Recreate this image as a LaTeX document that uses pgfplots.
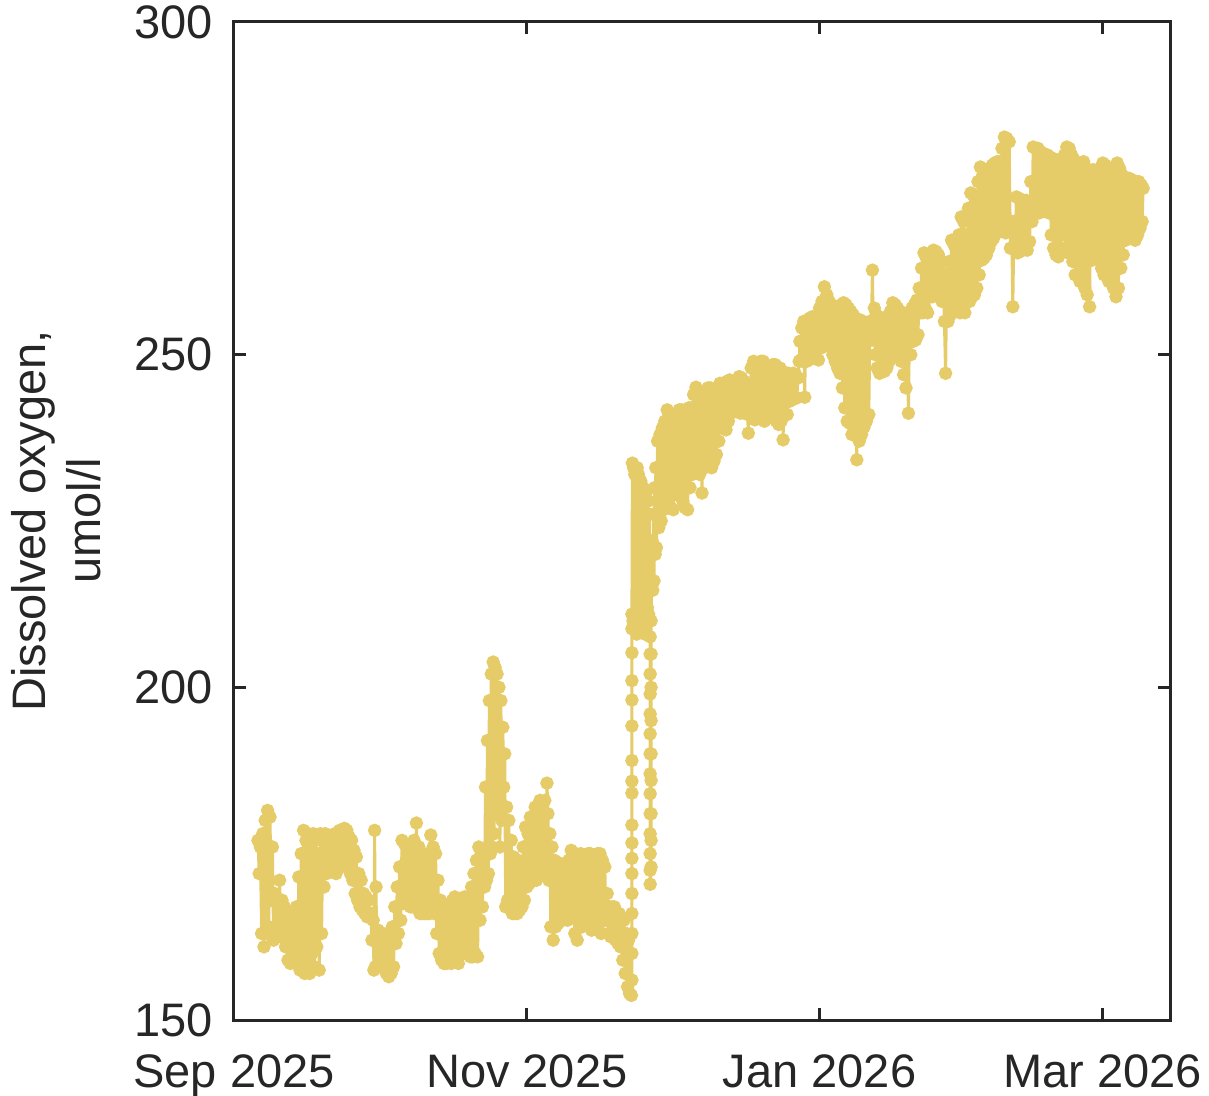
\documentclass[border=0pt]{standalone}
\usepackage{pgfplots}
\pgfplotsset{compat=1.18}
\usepackage{fontspec}
\setmainfont{Liberation Sans}
\definecolor{doy}{RGB}{229,204,104}
\definecolor{axg}{RGB}{38,38,38}
\begin{document}
\begin{tikzpicture}
\useasboundingbox (-117bp,-38bp) rectangle (487.5bp,510bp);
\begin{axis}[
  at={(0,0)}, anchor=south west,
  scale only axis, width=468bp, height=499bp,
  xmin=0, xmax=195, ymin=150, ymax=300,
  xtick={0,61,122,181},
  xticklabels={Sep 2025,Nov 2025,Jan 2026,Mar 2026},
  ytick={150,200,250,300},
  minor tick num=0,
  tick align=inside,
  major tick length=6bp,
  axis line style={line width=1.5bp, draw=axg},
  every tick/.style={line width=1.5bp, draw=axg},
  font=\fontsize{23.5bp}{27.5bp}\selectfont,
  /pgf/number format/assume math mode=true,
  ticklabel style={text=axg},
  yticklabel style={xshift=-7bp},
  xticklabel style={yshift=-14bp},
  ylabel={Dissolved oxygen,\\umol/l},
  ylabel style={align=center, text=axg},
  ylabel shift=10bp,
  clip=false,
]
\addplot[color=doy, line width=1.5bp, mark=*, mark size=2.6bp, mark options={draw=none, fill=doy}] coordinates {
(5.0,177)(5.25,172)(5.5,176)(5.75,163)(6.0,178)(6.25,161)(6.5,180)(6.75,163)(7.0,181.5)(7.25,164)(7.5,180.5)(7.75,168)
(8.0,176)(8.25,162)(8.5,169)(8.75,163)(9.0,167.5)(9.25,164)(9.5,171)(9.75,162.5)(10.0,168)(10.25,163)(10.5,167)(10.75,161)
(11.0,166)(11.25,159)(11.5,165)(11.75,158.5)(12.0,166)(12.25,160)(12.5,165)(12.75,161)(13.0,167)(13.25,159)(13.5,171.5)(13.75,157.5)
(14.0,175)(14.25,158)(14.5,178.5)(14.75,157)(15.0,177)(15.25,159)(15.5,178)(15.75,157)(16.0,176)(16.25,160)(16.5,178)(16.75,158)
(17.0,177)(17.25,161)(17.5,175)(17.75,157.5)(18.0,178)(18.25,163)(18.5,177.5)(18.75,170)(19.0,178)(19.25,172)(19.5,177.5)(19.75,173)
(20.0,177)(20.25,173)(20.5,177.5)(20.75,172.5)(21.0,178)(21.25,172)(21.5,177.5)(21.75,173)(22.0,178.5)(22.25,173)(22.5,178)(22.75,174)
(23.0,178.8)(23.25,174)(23.5,178.5)(23.75,173)(24.0,177.5)(24.25,172)(24.5,177)(24.75,171)(25.0,175.5)(25.25,169)(25.5,174.5)(25.75,168)
(26.0,172)(26.25,167)(26.5,171)(26.75,166.5)(27.0,169)(27.25,166)(27.5,168.5)(27.75,165.5)(28.0,168)(28.25,165.5)(28.5,166)(28.75,162)
(29.0,165)(29.15,157.5)(29.3,178.5)(29.45,158)(29.6,170)(29.75,158)(30.0,163.5)(30.25,158.5)(30.5,163)(30.75,158)(31.0,163)(31.25,158)
(31.5,162.5)(31.75,157)(32.0,163)(32.25,156.5)(32.5,162)(32.75,157)(33.0,164)(33.25,158)(33.5,167)(33.75,161.5)(34.0,170)(34.25,163)
(34.5,173)(34.75,165)(35.0,177)(35.25,167.5)(35.5,176.5)(35.75,168)(36.0,176)(36.25,168)(36.5,175.5)(36.75,167)(37.0,175)(37.25,167)
(37.5,177)(37.75,167)(38.0,179.6)(38.25,167)(38.5,176)(38.75,166)(39.0,174.5)(39.25,166)(39.5,173.5)(39.75,166)(40.0,173)(40.25,166)
(40.5,175)(40.75,166)(41.0,177.8)(41.25,167)(41.5,176)(41.75,166)(42.0,175)(42.25,163)(42.5,171)(42.75,160)(43.0,168)(43.25,159)
(43.5,167)(43.75,158.5)(44.0,166)(44.25,158.5)(44.5,166.5)(44.75,159)(45.0,167)(45.25,158.5)(45.5,168)(45.75,159)(46.0,168.5)(46.25,159)
(46.5,167.5)(46.75,158.5)(47.0,167)(47.25,160)(47.5,168)(47.75,160)(48.0,168.5)(48.25,160)(48.5,167.5)(48.75,160)(49.0,167)(49.25,159.5)
(49.5,170)(49.75,159.5)(50.0,172)(50.25,160)(50.5,174)(50.75,159.5)(51.0,176)(51.25,165)(51.5,175)(51.75,167)(52.0,174)(52.2,170)
(52.4,185)(52.6,171)(52.8,192)(53.0,172)(53.2,198)(53.4,175)(53.6,202)(53.8,176)(54.0,203.8)(54.2,178)(54.4,203)(54.6,181)
(54.8,202)(55.0,182)(55.2,200)(55.4,176)(55.6,198)(55.8,180)(56.0,194)(56.2,185)(56.4,190)(56.6,167)(56.8,182)(57.0,168)
(57.25,180)(57.5,167)(57.75,177)(58.0,166)(58.25,174.5)(58.5,166)(58.75,174)(59.0,166)(59.25,174)(59.5,166.5)(59.75,173)(60.0,167)
(60.25,176)(60.5,168)(60.75,179)(61.0,170)(61.25,178)(61.5,170.5)(61.75,180.5)(62.0,171)(62.25,180)(62.5,171)(62.75,182)(63.0,171)
(63.25,181)(63.5,172)(63.75,183)(64.0,172)(64.25,182.5)(64.5,173)(64.75,183)(65.0,172)(65.2,185.6)(65.4,181)(65.6,171)(65.8,178)
(66.0,164)(66.25,176)(66.5,162)(66.75,174)(67.0,164)(67.25,172)(67.5,164.5)(67.75,173.6)(68.0,165)(68.25,173)(68.5,165)(68.75,172)
(69.0,165.5)(69.25,172)(69.5,165)(69.75,174)(70.0,166)(70.25,175.5)(70.5,166)(70.75,175)(71.0,163)(71.25,175)(71.5,162)(71.75,174.5)
(72.0,164)(72.25,175)(72.5,164)(72.75,174)(73.0,165)(73.25,174)(73.5,165)(73.75,175)(74.0,164)(74.25,175)(74.5,163.5)(74.75,174.5)
(75.0,164)(75.25,174.5)(75.5,164)(75.75,175)(76.0,163.5)(76.25,175)(76.5,163)(76.75,174)(77.0,165)(77.25,173)(77.5,165)(77.75,169)
(78.0,163)(78.25,167)(78.5,162.5)(78.75,167)(79.0,162.5)(79.25,167)(79.5,162)(79.75,166)(80.0,161.5)(80.25,166)(80.5,161)(80.75,165)
(81.0,159)(81.25,165)(81.5,157)(81.75,163)(82.0,155)(82.2,162)(82.4,154)(82.6,160)(82.8,153.7)
(82.9,156)(82.9,160)(82.9,163)(82.9,166)(82.9,169)(82.9,172)(82.9,174.3)(82.9,176.6)(82.9,179.3)(82.9,184.1)(82.9,185.9)(82.9,189)
(82.9,194.2)(82.9,198.1)(82.9,201)(82.9,205.2)(82.9,208.8)(82.9,211)
(83.0,233.7)(83.125,210)(83.25,233)(83.375,209)(83.5,232)(83.625,210)(83.75,233)(83.875,208)(84.0,233)(84.125,211)(84.25,232)(84.375,209)
(84.5,231)(84.625,210)(84.75,231)(84.875,209)(85.0,230)(85.125,210)(85.25,230)(85.375,209)(85.5,229.7)(85.625,208)(85.75,229)(85.875,210)
(86.0,228)(86.125,212)(86.25,228)(86.375,211)(86.5,226)
(86.7,210)(86.7,207.6)(86.7,205)(86.7,202)(86.7,199)(86.7,196)(86.7,193)(86.7,190)(86.7,187)(86.7,184)(86.7,181)(86.7,178)
(86.7,175)(86.7,172.5)(86.7,170.4)(86.9,173)(86.9,177)(86.9,181)(86.9,186)(86.9,190)(86.9,195)(86.9,200)(86.9,205)(86.9,210)
(87.0,214.6)(87.125,222)(87.25,214.6)(87.375,226)(87.5,216)(87.625,230)(87.75,220)(87.875,233)(88.0,221)(88.25,237)(88.5,224)(88.75,238)
(89.0,225)(89.25,239)(89.5,226.7)(89.75,240)(90.0,227)(90.25,241.7)(90.5,228)(90.75,241)(91.0,227)(91.25,241)(91.5,226.7)(91.75,240)
(92.0,229)(92.25,240)(92.5,230)(92.75,241.7)(93.0,229)(93.25,241.7)(93.5,228)(93.75,241)(94.0,227)(94.25,241)(94.5,226.7)(94.75,242)
(95.0,230)(95.25,242)(95.5,232)(95.75,244)(96.0,233)(96.25,245.1)(96.5,233)(96.75,244)(97.0,232)(97.25,243)(97.5,229.2)(97.75,243.5)
(98.0,233)(98.25,244)(98.5,234)(98.75,245)(99.0,234)(99.25,245)(99.5,233)(99.75,244.5)(100.0,234)(100.25,244)(100.5,235)(100.75,245)
(101.0,237)(101.25,245.7)(101.5,239)(101.75,245)(102.0,239)(102.25,245)(102.5,238.7)(102.75,246)(103.0,240)(103.25,246.2)(103.5,241.2)(103.75,246)
(104.0,242)(104.25,245.5)(104.5,242)(104.75,246)(105.0,241.5)(105.25,246.7)(105.5,241.2)(105.75,246.5)(106.0,242)(106.25,246)(106.5,242)(106.75,245.5)
(107.0,241)(107.15,238.2)(107.3,245)(107.5,241)(107.75,248)(108.0,240.5)(108.25,249)(108.5,240.2)(108.75,248.5)(109.0,241)(109.25,248)(109.5,241)
(109.75,249)(110.0,240.5)(110.25,249)(110.5,240)(110.75,248)(111.0,241)(111.25,247.2)(111.5,241)(111.75,248)(112.0,240.5)(112.25,248.5)(112.5,240.5)
(112.75,248.5)(113.0,240)(113.25,248)(113.5,239.5)(113.75,248)(114.0,240)(114.25,247.5)(114.4,237.2)(114.6,246)(114.8,241)(115.0,246.5)(115.25,241)
(115.5,247.2)(115.75,243)(116.0,247)(116.25,243.2)(116.5,247.2)(116.75,243.5)(117.0,247)(117.25,243.5)(117.5,246.5)(117.75,249)(117.9,252)(118.1,249.2)
(118.3,254)(118.5,249)(118.7,255)(118.9,243.6)(119.1,254)(119.3,249)(119.5,255.2)(119.75,249.2)(120.0,255.5)(120.25,250)(120.5,255.7)(120.75,250)
(121.0,255)(121.25,249.5)(121.5,255.5)(121.75,249.2)(122.0,257)(122.25,251)(122.5,258)(122.75,251.2)(123.0,260.2)(123.25,252)(123.5,259)(123.75,252)
(124.0,258)(124.25,251.2)(124.5,257.5)(124.75,250)(125.0,257.2)(125.25,249)(125.5,257)(125.75,248)(126.0,257)(126.25,247.2)(126.5,257.5)(126.75,245)
(127.0,257.8)(127.25,242)(127.5,257.5)(127.75,240)(128.0,257)(128.25,239.7)(128.5,256.5)(128.75,238)(129.0,256)(129.25,238)(129.5,255.5)(129.75,234.2)
(130.0,255)(130.25,237)(130.5,255.2)(130.75,238)(131.0,255)(131.25,239.1)(131.5,254)(131.75,240)(132.0,254.5)(132.25,241)(132.5,255)(132.75,252.2)
(133.0,262.7)(133.2,252.2)(133.4,257)(133.6,250)(133.8,256)(134.0,248)(134.25,255.7)(134.5,247.2)(134.75,255)(135.0,247.5)(135.25,255.5)(135.5,247.5)
(135.75,255)(136.0,248)(136.25,255.7)(136.5,249)(136.75,256.5)(137.0,250.2)(137.25,257.8)(137.5,250.2)(137.75,257.5)(138.0,250.5)(138.25,257)(138.5,250)
(138.75,256.5)(139.0,249)(139.25,256.3)(139.5,247)(139.75,256)(140.0,245)(140.25,256)(140.5,241.2)(140.75,256)(141.0,250)(141.25,257)(141.5,252)
(141.75,257.5)(142.0,252.2)(142.25,258.2)(142.5,253)(142.75,260)(143.0,256.3)(143.25,263)(143.5,256.3)(143.75,265.3)(144.0,257)(144.25,264.5)(144.5,256.3)
(144.75,264)(145.0,258.7)(145.25,265.3)(145.5,258.7)(145.75,265.7)(146.0,259)(146.25,265.5)(146.5,259)(146.75,265)(147.0,258.7)(147.25,264)(147.5,258)
(147.75,262.3)(148.0,255)(148.25,247.2)(148.5,262)(148.75,255)(149.0,264)(149.25,256)(149.5,267.2)(149.75,259.7)(150.0,266.5)(150.25,258)(150.5,266)
(150.75,257)(151.0,268)(151.25,256.3)(151.5,270.7)(151.75,257)(152.0,270)(152.25,256.3)(152.5,268)(152.75,258)(153.0,272)(153.25,258)(153.5,274.3)
(153.75,258.7)(154.0,274)(154.25,259)(154.5,273)(154.75,260)(155.0,276)(155.25,262)(155.5,278.2)(155.75,264.2)(156.0,277)(156.25,264.5)(156.5,276)
(156.75,265)(157.0,277)(157.25,266)(157.5,278)(157.75,267)(158.0,278.5)(158.25,267.5)(158.5,278.8)(158.75,268.3)(159.0,279)(159.25,268.5)(159.5,279)
(159.75,269)(160.0,281)(160.25,269.5)(160.5,282.7)(160.75,268.3)(161.0,282.5)(161.25,268.5)(161.5,282)(161.75,266)(162.0,270)(162.25,257.2)(162.5,270)
(162.75,266)(163.0,273.7)(163.25,265.3)(163.5,273.5)(163.75,265.5)(164.0,273)(164.25,266)(164.5,273)(164.75,266)(165.0,273.2)(165.25,265.7)(165.5,273)
(165.75,267)(166.0,276)(166.25,270)(166.5,281.2)(166.75,272.8)(167.0,281)(167.25,272)(167.5,281)(167.75,271.3)(168.0,280.5)(168.25,271.5)(168.5,280.3)
(168.75,272)(169.0,280)(169.25,271.5)(169.5,280)(169.75,271.3)(170.0,279.7)(170.25,268)(170.5,279.5)(170.75,266)(171.0,279.3)(171.25,265)(171.5,279)
(171.75,264.7)(172.0,279)(172.25,266)(172.5,279.5)(172.75,268)(173.0,280)(173.25,266)(173.5,281.2)(173.75,265.3)(174.0,281)(174.25,266)(174.5,280)
(174.75,264)(175.0,279.3)(175.25,262)(175.5,278.5)(175.75,262)(176.0,278)(176.25,261)(176.5,278.5)(176.75,262)(177.0,279)(177.25,260)(177.5,278)
(177.75,259)(178.0,277.3)(178.25,257.2)(178.5,277)(178.75,264.2)(179.0,277.8)(179.25,264.5)(179.5,277.5)(179.75,265)(180.0,277)(180.25,264.2)(180.5,278)
(180.75,263)(181.0,278.8)(181.25,262)(181.5,278.5)(181.75,262)(182.0,278)(182.25,261)(182.5,277.5)(182.75,262)(183.0,277)(183.25,260)(183.5,278)
(183.75,258.7)(184.0,278.8)(184.25,260)(184.5,278)(184.75,263)(185.0,277)(185.25,265)(185.5,276.7)(185.75,267.2)(186.0,276.5)(186.25,267.5)(186.5,276.5)
(186.75,268)(187.0,276.3)(187.25,268)(187.5,276)(187.75,267.2)(188.0,276)(188.25,268)(188.5,276)(188.75,269)(189.0,275.5)(189.2,270)(189.4,275)
};
\end{axis}
\end{tikzpicture}
\end{document}
